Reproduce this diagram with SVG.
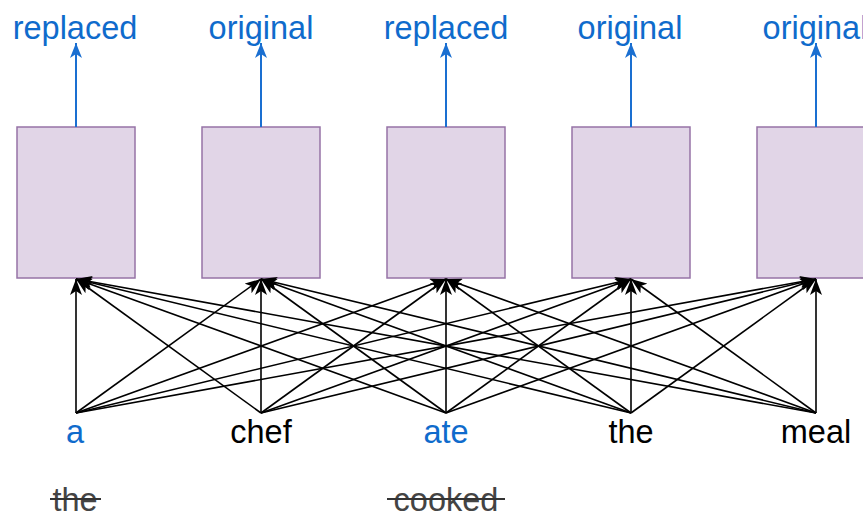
<svg xmlns="http://www.w3.org/2000/svg" width="863" height="513" viewBox="0 0 863 513">
<style>
.box{fill:#e1d5e7;stroke:#9673a6;stroke-width:1.5}
.blue{fill:#0f6bcc}
.t{font-family:"Liberation Sans",Arial,sans-serif;font-size:32.5px;text-anchor:middle}
.blk{fill:#000}
.gr{fill:#444}
.c{stroke:#000;stroke-width:1.6;fill:none}
.u{stroke:#1a6fd1;stroke-width:2;fill:none}
.s{stroke:#333;stroke-width:2}
</style>
<defs>
<marker id="ab" viewBox="0 0 16 12" refX="16" refY="6" markerWidth="16" markerHeight="12" markerUnits="userSpaceOnUse" orient="auto">
<path d="M0,0 L16,6 L0,12 L4,6 Z" fill="#000"/>
</marker>
<marker id="au" viewBox="0 0 15 12" refX="15" refY="6" markerWidth="15" markerHeight="12" markerUnits="userSpaceOnUse" orient="auto">
<path d="M0,0 L15,6 L0,12 L4,6 Z" fill="#1a6fd1"/>
</marker>
</defs>
<g id="box1"><rect class="box" x="17" y="127" width="118" height="151"/></g>
<g id="box2"><rect class="box" x="202" y="127" width="118" height="151"/></g>
<g id="box3"><rect class="box" x="387" y="127" width="118" height="151"/></g>
<g id="box4"><rect class="box" x="572" y="127" width="118" height="151"/></g>
<g id="box5"><rect class="box" x="757" y="127" width="118" height="151"/></g>
<g id="outputs">
<text class="t blue" x="75" y="39">replaced</text>
<text class="t blue" x="261" y="39">original</text>
<text class="t blue" x="446" y="39">replaced</text>
<text class="t blue" x="630" y="39">original</text>
<text class="t blue" x="815" y="39">original</text>
</g>
<g id="inputs">
<text class="t blue" x="75" y="443">a</text>
<text class="t blk" x="261" y="443">chef</text>
<text class="t blue" x="446" y="443">ate</text>
<text class="t blk" x="631" y="443">the</text>
<text class="t blk" x="816" y="443">meal</text>
</g>
<g id="struck">
<text class="t gr" x="75" y="511">the</text>
<line class="s" x1="50" y1="499" x2="101" y2="499"/>
<text class="t gr" x="446" y="511">cooked</text>
<line class="s" x1="387" y1="499" x2="505" y2="499"/>
</g>
<g id="connectors">
<g class="u">
<line x1="76" y1="127" x2="76" y2="43" marker-end="url(#au)"/>
<line x1="261" y1="127" x2="261" y2="43" marker-end="url(#au)"/>
<line x1="446" y1="127" x2="446" y2="43" marker-end="url(#au)"/>
<line x1="631" y1="127" x2="631" y2="43" marker-end="url(#au)"/>
<line x1="816" y1="127" x2="816" y2="43" marker-end="url(#au)"/>
</g>
<g class="c">
<line x1="76" y1="413" x2="76" y2="279" marker-end="url(#ab)"/>
<line x1="76" y1="413" x2="261" y2="279" marker-end="url(#ab)"/>
<line x1="76" y1="413" x2="446" y2="279" marker-end="url(#ab)"/>
<line x1="76" y1="413" x2="631" y2="279" marker-end="url(#ab)"/>
<line x1="76" y1="413" x2="816" y2="279" marker-end="url(#ab)"/>
<line x1="261" y1="413" x2="76" y2="279" marker-end="url(#ab)"/>
<line x1="261" y1="413" x2="261" y2="279" marker-end="url(#ab)"/>
<line x1="261" y1="413" x2="446" y2="279" marker-end="url(#ab)"/>
<line x1="261" y1="413" x2="631" y2="279" marker-end="url(#ab)"/>
<line x1="261" y1="413" x2="816" y2="279" marker-end="url(#ab)"/>
<line x1="446" y1="413" x2="76" y2="279" marker-end="url(#ab)"/>
<line x1="446" y1="413" x2="261" y2="279" marker-end="url(#ab)"/>
<line x1="446" y1="413" x2="446" y2="279" marker-end="url(#ab)"/>
<line x1="446" y1="413" x2="631" y2="279" marker-end="url(#ab)"/>
<line x1="446" y1="413" x2="816" y2="279" marker-end="url(#ab)"/>
<line x1="631" y1="413" x2="76" y2="279" marker-end="url(#ab)"/>
<line x1="631" y1="413" x2="261" y2="279" marker-end="url(#ab)"/>
<line x1="631" y1="413" x2="446" y2="279" marker-end="url(#ab)"/>
<line x1="631" y1="413" x2="631" y2="279" marker-end="url(#ab)"/>
<line x1="631" y1="413" x2="816" y2="279" marker-end="url(#ab)"/>
<line x1="816" y1="413" x2="76" y2="279" marker-end="url(#ab)"/>
<line x1="816" y1="413" x2="261" y2="279" marker-end="url(#ab)"/>
<line x1="816" y1="413" x2="446" y2="279" marker-end="url(#ab)"/>
<line x1="816" y1="413" x2="631" y2="279" marker-end="url(#ab)"/>
<line x1="816" y1="413" x2="816" y2="279" marker-end="url(#ab)"/>
</g>
</g>
</svg>
